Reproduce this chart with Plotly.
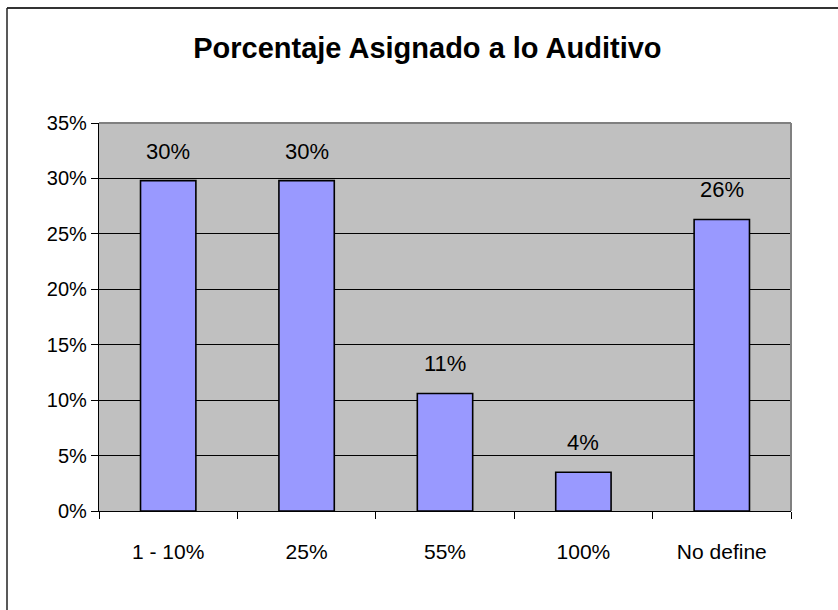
import plotly.graph_objects as go

categories = ["1 - 10%", "25%", "55%", "100%", "No define"]
values = [0.298, 0.298, 0.106, 0.035, 0.263]
y_tick_vals = [0, 0.05, 0.10, 0.15, 0.20, 0.25, 0.30, 0.35]
y_tick_text = ["0%", "5%", "10%", "15%", "20%", "25%", "30%", "35%"]
title_text = "Porcentaje Asignado a lo Auditivo"

labels = [f"{round(v * 100)}%" for v in values]

W, H = 838, 610
L, R, T, B = 99, 791, 123, 511
pw, ph = R - L, B - T
FONT = "Liberation Sans, Arial"

fig = go.Figure()
fig.add_trace(go.Bar(
    x=categories, y=values,
    marker=dict(color="#9999FF", line=dict(color="black", width=1.6)),
    width=0.4, hoverinfo="x+y",
))

for c, v, t in zip(categories, values, labels):
    fig.add_annotation(x=c, y=v, text=t, showarrow=False, yanchor="bottom",
                       yshift=15, font=dict(family=FONT, size=22, color="black"))

fig.update_layout(
    width=W, height=H,
    margin=dict(l=L, r=W - R, t=T, b=H - B, pad=0),
    paper_bgcolor="white",
    plot_bgcolor="#C0C0C0",
    showlegend=False,
    font=dict(family=FONT, size=20, color="black"),
    title=dict(text="<b>" + title_text + "</b>", x=0.51, xanchor="center",
               y=1 - 48 / H, yanchor="middle",
               font=dict(family=FONT, size=29, color="black")),
)

fig.update_xaxes(
    type="category", showgrid=False, zeroline=False,
    showline=True, linecolor="black", linewidth=1.2,
    ticks="outside", ticklen=7, tickcolor="black", tickwidth=1,
    tickson="boundaries", ticklabelstandoff=22,
    tickfont=dict(family=FONT, size=21, color="black"),
    range=[-0.5, 4.5],
)
fig.update_yaxes(
    range=[0, 0.35], tickvals=y_tick_vals, ticktext=y_tick_text,
    showgrid=True, gridcolor="black", gridwidth=1,
    zeroline=False, showline=True, linecolor="black", linewidth=1.2,
    ticks="outside", ticklen=7, tickcolor="black", tickwidth=1,
    tickfont=dict(family=FONT, size=20, color="black"),
)

# gray plot-area border on top and right
fig.add_shape(type="line", xref="paper", yref="paper", x0=0, x1=1, y0=1, y1=1,
              line=dict(color="#808080", width=2))
fig.add_shape(type="line", xref="paper", yref="paper", x0=1, x1=1, y0=0, y1=1,
              line=dict(color="#808080", width=2))

# outer chart border (top and left visible)
fx0 = (7 - L) / pw
fy1 = (B - 8) / ph
fig.add_shape(type="line", xref="paper", yref="paper", x0=fx0, x1=(W + 10 - L) / pw,
              y0=fy1, y1=fy1, line=dict(color="#333333", width=2))
fig.add_shape(type="line", xref="paper", yref="paper", x0=fx0, x1=fx0,
              y0=fy1, y1=(B - H - 10) / ph, line=dict(color="#222222", width=1.5))

fig.write_html("out.html", config={"displayModeBar": False},
               post_script="document.body.style.margin='0';document.body.style.overflow='hidden';")
